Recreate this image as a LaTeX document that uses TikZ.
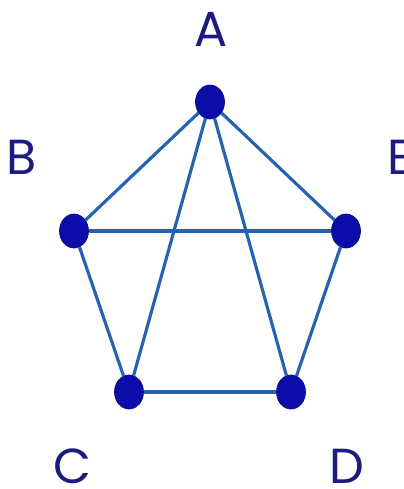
\documentclass[tikz,border=0pt]{standalone}
\usepackage{fontspec}
\setmainfont{Poppins}
\usetikzlibrary{shapes.geometric}
\definecolor{DotBlue}{RGB}{12,12,168}
\definecolor{EdgeBlue}{RGB}{38,98,178}
\definecolor{InkBlue}{RGB}{28,28,128}

\begin{document}
\begin{tikzpicture}[
    x=0.02cm, y=-0.02cm,
    vertex/.style={ellipse, fill=DotBlue, draw=DotBlue!80!black, line width=0.4pt,
                   minimum width=0.58cm, minimum height=0.68cm, inner sep=0pt},
    edge/.style={draw=EdgeBlue, line width=1.8pt},
    lbl/.style={font=\fontsize{28}{28}\selectfont, text=InkBlue, inner sep=0pt,
                anchor=base},
]
\useasboundingbox (0,0) rectangle (404,489);

% ── Letters (placed on their baselines) ──
\node[lbl] (la) at (211,47) {A};
\node[lbl] (lb) at (22,175) {B};
\node[lbl, anchor=base west] (le) at (387,175) {E};
\node[lbl] (lc) at (72,483) {C};
\node[lbl] (ld) at (347,483) {D};

% ── Vertices ──
\node[vertex] (A) at (210,102) {};
\node[vertex] (B) at (74,231) {};
\node[vertex] (E) at (346,231) {};
\node[vertex] (C) at (129,392) {};
\node[vertex] (D) at (291,392) {};

% ── Edges ──
\draw[edge] (A) -- (B);
\draw[edge] (A) -- (E);
\draw[edge] (A) -- (C);
\draw[edge] (A) -- (D);
\draw[edge] (B) -- (E);
\draw[edge] (B) -- (C);
\draw[edge] (E) -- (D);
\draw[edge] (C) -- (D);

\end{tikzpicture}
\end{document}
